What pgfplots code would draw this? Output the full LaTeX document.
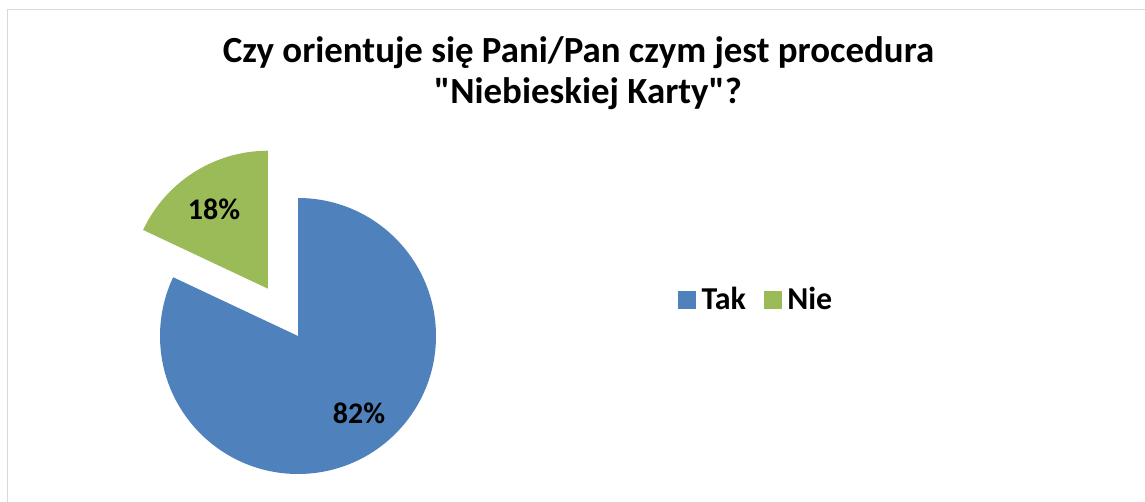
\documentclass[border=0pt]{standalone}
\usepackage{pgfplots}
\pgfplotsset{compat=1.18}
\usepackage{pgfplotstable}
\usepackage{fontspec}
\setmainfont{Carlito}
\definecolor{takblue}{HTML}{4F81BD}
\definecolor{niegreen}{HTML}{9BBB59}
\definecolor{frame}{HTML}{D9D9D9}
\pgfplotstableread{
label value
Tak 82
Nie 18
}\piedata
\begin{document}
\begin{tikzpicture}
\pgfplotstablegetelem{0}{value}\of\piedata \let\vTak\pgfplotsretval
\pgfplotstablegetelem{1}{value}\of\piedata \let\vNie\pgfplotsretval
\pgfmathsetmacro\aTak{3.6*\vTak}
\pgfmathsetmacro\aNie{3.6*\vNie}
\pgfmathsetmacro\eNie{90+\aNie/2}
\begin{axis}[
  scale only axis, width=1145bp, height=502bp,
  xmin=0, xmax=1145, ymin=0, ymax=502,
  hide axis, clip=true,
  legend style={at={(678/1145,202.5/502)}, anchor=west, draw=none, fill=none,
    inner sep=0pt, legend columns=2,
    font=\bfseries\fontsize{32}{34}\selectfont,
    /tikz/every odd column/.append style={column sep=4bp},
    /tikz/every even column/.append style={column sep=16bp}},
  legend image code/.code={\fill[#1] (0bp,-8.5bp) rectangle (17bp,8.5bp);},
]
\addlegendimage{takblue}
\addlegendentry{Tak}
\addlegendimage{niegreen}
\addlegendentry{Nie}
\draw[frame, line width=1.5bp] (axis cs:7.5,-20) rectangle (axis cs:1170,492.5);
\fill[takblue] (axis cs:298,166) -- ++(90:138bp) arc[start angle=90, end angle={90-\aTak}, radius=138bp] -- cycle;
\fill[niegreen, shift={(\eNie:56bp)}] (axis cs:298,166) -- ++(90:138bp) arc[start angle=90, end angle={90+\aNie}, radius=138bp] -- cycle;
\node[font=\bfseries\fontsize{30}{32}\selectfont] at (axis cs:214,293) {\vNie\%};
\node[font=\bfseries\fontsize{30}{32}\selectfont] at (axis cs:359,89) {\vTak\%};
\node[anchor=base, font=\bfseries\fontsize{37}{40}\selectfont] at (axis cs:578.5,439) {Czy orientuje się Pani/Pan czym jest procedura};
\node[anchor=base, font=\bfseries\fontsize{37}{40}\selectfont] at (axis cs:588,398) {\textquotedbl Niebieskiej Karty\textquotedbl ?};
\end{axis}
\pgfresetboundingbox
\path[use as bounding box] (current axis.south west) rectangle (current axis.north east);
\end{tikzpicture}
\end{document}
